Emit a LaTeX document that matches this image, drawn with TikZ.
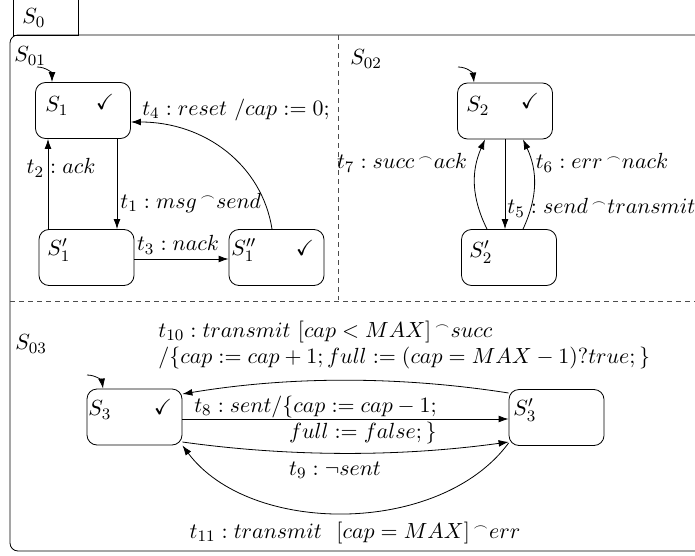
\documentclass[tikz,border=0pt]{standalone}
\usepackage{amssymb}
\usetikzlibrary{arrows.meta}
\newcommand{\hatop}{\,{}^{\scriptscriptstyle\frown}}
\begin{document}
\begin{tikzpicture}[x=0.5pt,y=-0.5pt,
  every node/.style={font=\fontsize{10.95}{13.6}\selectfont},
  st/.style={draw, rounded corners=5pt, minimum width=47.5pt, minimum height=28pt, inner sep=0pt},
  lb/.style={inner sep=0pt},
  arr/.style={-{Latex[length=5pt,width=3.4pt]}},
  sep/.style={dash pattern=on 2.5pt off 2pt, black!70}]
\useasboundingbox (0,0) rectangle (695,556);
% frame
\draw (13,-5) rectangle (78,35);
\node[lb,anchor=west] (l0) at (22,18) {$S_0$};
\draw[rounded corners=4pt] (10,35) rectangle (705,551);
\draw[sep] (338,35) -- (338,300);
\draw[sep] (10,301) -- (695,301);
\node[lb,anchor=west] (l01) at (14,56) {$S_{01}$};
\node[lb,anchor=west] (l02) at (350,59) {$S_{02}$};
\node[lb,anchor=west] (l03) at (15,344) {$S_{03}$};
% states
\node[st] (s1) at (83,110.5) {};
\node[st] (s1p) at (86.5,257.5) {};
\node[st] (s1pp) at (276.5,257.5) {};
\node[st] (s2) at (505,111) {};
\node[st] (s2p) at (509,257.5) {};
\node[st] (s3) at (134.5,417) {};
\node[st] (s3p) at (556.5,417.5) {};
% state labels
\node[lb,anchor=west] (n1) at (45,106) {$S_1$};
\node[lb] (c1) at (105,102) {$\checkmark$};
\node[lb,anchor=west] (n1p) at (47,250) {$S_1'$};
\node[lb,anchor=west] (n1pp) at (231,250) {$S_1''$};
\node[lb] (c1pp) at (305,248) {$\checkmark$};
\node[lb,anchor=west] (n2) at (466,106) {$S_2$};
\node[lb] (c2) at (530,101) {$\checkmark$};
\node[lb,anchor=west] (n2p) at (469,252) {$S_2'$};
\node[lb,anchor=west] (n3) at (88,410) {$S_3$};
\node[lb] (c3) at (163,407) {$\checkmark$};
\node[lb,anchor=west] (n3p) at (513,410) {$S_3'$};
% initial arrows
\draw[arr] (37,67) .. controls (46,67) and (52,73) .. (52,0 |- s1.north);
\draw[arr] (458,67) .. controls (467,67) and (473,73) .. (474,0 |- s2.north);
\draw[arr] (87,375) .. controls (96,375) and (102,381) .. (103,0 |- s3.north);
% region 1 transitions
\draw[arr] (117,0 |- s1.south) -- (117,0 |- s1p.north);
\draw[arr] (48,0 |- s1p.north) -- (48,0 |- s1.south);
\draw[arr] (s1p.east |- 0,259) -- (s1pp.west |- 0,259);
\draw[arr] (272,0 |- s1pp.north) .. controls (262,165) and (205,122) .. (s1.east |- 0,122);
\node[lb,anchor=west] (t1) at (120,203) {$t_1 : msg\hatop send$};
\node[lb] (t2) at (61,168) {$t_2 : ack$};
\node[lb] (t3) at (178,245) {$t_3 : nack$};
\node[lb] (t4) at (236,110) {$t_4 : reset\ /cap := 0;$};
% region 2 transitions
\draw[arr] (505,0 |- s2.south) -- (505,0 |- s2p.north);
\draw[arr] (487,0 |- s2p.north) to[bend left=25] (485,0 |- s2.south);
\draw[arr] (523,0 |- s2p.north) to[bend right=25] (523,0 |- s2.south);
\node[lb,anchor=west] (t5) at (507,208) {$t_5 : send\hatop transmit$};
\node[lb] (t6) at (602,163) {$t_6 : err\hatop nack$};
\node[lb] (t7) at (402,163) {$t_7 : succ\hatop ack$};
% region 3 transitions
\draw[arr] (s3p.west |- 0,393) .. controls (400,376) and (290,376) .. (s3.east |- 0,394);
\draw[arr] (s3.east |- 0,419) -- (s3p.west |- 0,419);
\draw[arr] (s3.east |- 0,442) .. controls (290,457) and (400,457) .. (s3p.west |- 0,442);
\draw[arr] (s3p.west |- 0,443) .. controls (440,536) and (250,536) .. (s3.south east);
\node[lb,anchor=west] (t10a) at (158,332) {$t_{10} : transmit\ [cap < MAX]\hatop succ$};
\node[lb,anchor=west] (t10b) at (158,358) {$/\{cap := cap + 1; full := (cap = MAX - 1)?true;\}$};
\node[lb,anchor=east] (t8a) at (437,407) {$t_8 : sent/\{cap := cap - 1;$};
\node[lb,anchor=east] (t8b) at (437,433) {$full := false;\}$};
\node[lb] (t9) at (335,470) {$t_9 : \neg sent$};
\node[lb] (t11) at (355,533) {$t_{11} : transmit\ \ [cap = MAX]\hatop err$};
\end{tikzpicture}
\end{document}
